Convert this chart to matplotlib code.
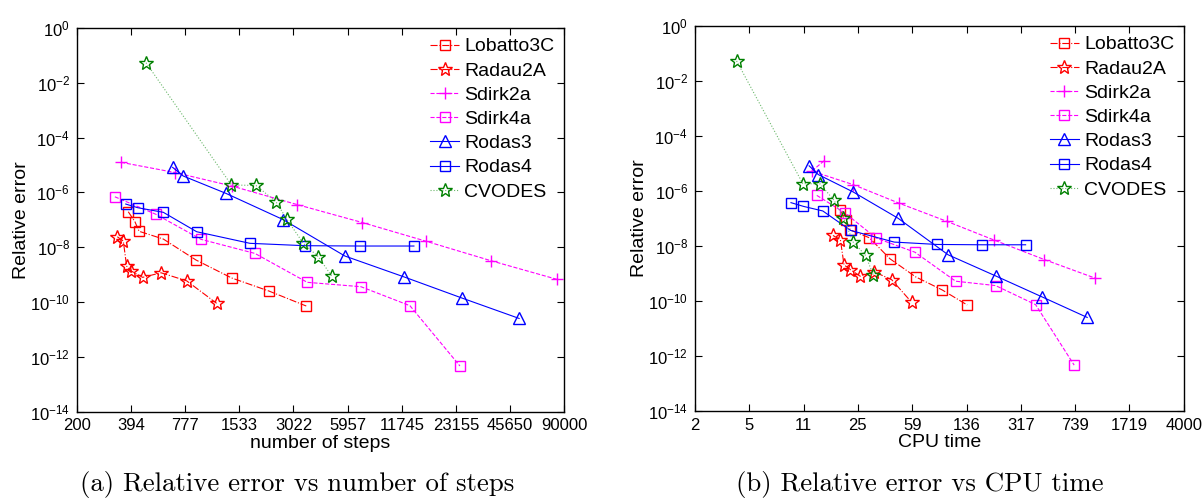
import numpy as np
import matplotlib
matplotlib.use('Agg')
import matplotlib.pyplot as plt
from matplotlib import rcParams

rcParams['font.family'] = ['Liberation Sans', 'DejaVu Sans']
rcParams['mathtext.fontset'] = 'custom'
rcParams['mathtext.rm'] = 'Liberation Sans'
rcParams['mathtext.it'] = 'Liberation Sans:italic'
rcParams['mathtext.bf'] = 'Liberation Sans:bold'

# relative error, shared by both panels
err_lobatto = [1.96e-7, 8.5e-8, 3.8e-8, 1.98e-8, 3.4e-9, 7.5e-10, 2.5e-10, 7.1e-11]
err_radau = [2.4e-8, 1.67e-8, 2.05e-9, 1.38e-9, 7.9e-10, 1.16e-9, 5.9e-10, 8.9e-11]
err_sdirk2 = [1.25e-5, 5.3e-6, 1.7e-6, 3.6e-7, 7.9e-8, 1.63e-8, 3.2e-9, 6.7e-10]
err_sdirk4 = [6.9e-7, 1.58e-7, 1.93e-8, 5.9e-9, 5.2e-10, 3.6e-10, 7.3e-11, 4.6e-13]
err_rodas3 = [8.2e-6, 3.95e-6, 9.2e-7, 1.02e-7, 4.74e-9, 8.1e-10, 1.39e-10, 2.5e-11]
err_rodas4 = [3.75e-7, 2.75e-7, 1.87e-7, 3.66e-8, 1.38e-8, 1.13e-8, 1.1e-8, 1.1e-8]
err_cvodes = [5.4e-2, 1.85e-6, 1.8e-6, 4.55e-7, 1.07e-7, 1.38e-8, 4.5e-9, 8.8e-10]

# number of steps
steps_lobatto = [381, 414, 436, 591, 890, 1392, 2222, 3547]
steps_radau = [332, 358, 373, 393, 456, 574, 792, 1153]
steps_sdirk2 = [348, 684, 1398, 3157, 7173, 16000, 35920, 82120]
steps_sdirk4 = [322, 539, 948, 1865, 3592, 7040, 13010, 24350]
steps_rodas3 = [664, 759, 1296, 2649, 5760, 12150, 24970, 51150]
steps_rodas4 = [369, 429, 591, 898, 1751, 3488, 6952, 13680]
steps_cvodes = [476, 1389, 1888, 2426, 2775, 3417, 4122, 4877]

# cpu time
cpu_lobatto = [19.1, 21.0, 22.4, 30.1, 41.5, 61.8, 93.5, 137.9]
cpu_radau = [17.1, 19.2, 20.3, 22.4, 26.1, 32.3, 42.6, 58.1]
cpu_sdirk2 = [14.9, 12.3, 23.4, 47.7, 100.1, 209.8, 456.6, 1010.6]
cpu_sdirk4 = [13.3, 20.6, 33.5, 61.2, 115.2, 214.6, 399.5, 727.8]
cpu_rodas3 = [11.8, 13.6, 23.4, 47.0, 102.6, 214.6, 442.6, 891.2]
cpu_rodas4 = [8.9, 10.8, 14.6, 22.5, 44.3, 86.5, 174.2, 342.0]
cpu_cvodes = [3.82, 10.7, 14.0, 17.4, 20.1, 23.4, 28.4, 32.0]

steps_ticklabels = ['200', '394', '777', '1533', '3022', '5957', '11745', '23155', '45650', '90000']
cpu_ticklabels = ['2', '5', '11', '25', '59', '136', '317', '739', '1719', '4000']

names = ['Lobatto3C', 'Radau2A', 'Sdirk2a', 'Sdirk4a', 'Rodas3', 'Rodas4', 'CVODES']
errs = [err_lobatto, err_radau, err_sdirk2, err_sdirk4, err_rodas3, err_rodas4, err_cvodes]
steps = [steps_lobatto, steps_radau, steps_sdirk2, steps_sdirk4, steps_rodas3, steps_rodas4, steps_cvodes]
cpus = [cpu_lobatto, cpu_radau, cpu_sdirk2, cpu_sdirk4, cpu_rodas3, cpu_rodas4, cpu_cvodes]

styles = [
    dict(color='#ff0000', ls='-.', marker='s', ms=6.5),
    dict(color='#ff0000', ls='-.', marker='*', ms=10),
    dict(color='#ff00ff', ls='--', marker='+', ms=9),
    dict(color='#ff00ff', ls='--', marker='s', ms=6.5),
    dict(color='#0000ff', ls='-', marker='^', ms=8),
    dict(color='#0000ff', ls='-', marker='s', ms=6.5),
    dict(color='#6cb86c', ls=':', marker='*', ms=10, mec='#008000'),
]


def draw_panel(ax, xdata, xlim, ticklabels, xlabel):
    for name, x, y, st in zip(names, xdata, errs, styles):
        st = dict(st)
        mec = st.pop('mec', st['color'])
        ax.plot(x, y, label=name, lw=0.8, mfc='none', mec=mec, mew=1.0, **st)
    ax.set_xscale('log')
    ax.set_yscale('log')
    ax.set_xlim(*xlim)
    ax.set_ylim(1e-14, 1)
    ticks = np.geomspace(xlim[0], xlim[1], len(ticklabels))
    ax.set_xticks(ticks)
    ax.set_xticklabels(ticklabels)
    ax.xaxis.set_minor_locator(matplotlib.ticker.NullLocator())
    ax.set_yticks([10.0 ** k for k in range(0, -15, -2)])
    ax.yaxis.set_minor_locator(matplotlib.ticker.NullLocator())
    ax.tick_params(which='both', direction='in', top=True, right=True,
                   length=5, width=0.8, labelsize=12, pad=5)
    for sp in ax.spines.values():
        sp.set_linewidth(1.0)
    ax.set_xlabel(xlabel, fontsize=14, labelpad=1)
    ax.set_ylabel('Relative error', fontsize=14, labelpad=0)
    ax.legend(loc='upper right', frameon=False, fontsize=14, numpoints=1,
              handlelength=1.5, handletextpad=0.25, labelspacing=0.34,
              borderaxespad=0.3, borderpad=0.2)


fig = plt.figure(figsize=(12.03, 5.01), dpi=100)
ax1 = fig.add_axes([0.0639, 0.1786, 0.4051, 0.7655])
ax2 = fig.add_axes([0.5777, 0.18, 0.4063, 0.768])

draw_panel(ax1, steps, (200, 90000), steps_ticklabels, 'number of steps')
draw_panel(ax2, cpus, (2, 4000), cpu_ticklabels, 'CPU time')

fig.text(297 / 1203, 1 - 485 / 501, '(a) Relative error vs number of steps',
         family='cmr10', fontsize=19.3, ha='center', va='center')
fig.text(920 / 1203, 1 - 485 / 501, '(b) Relative error vs CPU time',
         family='cmr10', fontsize=19.3, ha='center', va='center')

plt.savefig('out.png', dpi=100)
